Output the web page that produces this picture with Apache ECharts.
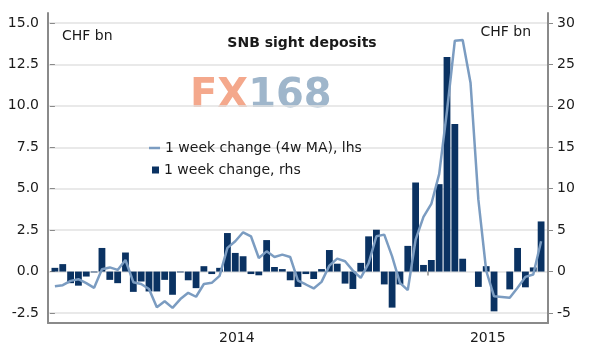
<!DOCTYPE html>
<html>
<head>
<meta charset="utf-8">
<script src="https://cdn.jsdelivr.net/npm/echarts@6/dist/echarts.min.js"></script>
<style>
	html, body { margin: 0; padding: 0; background: #fff; }
	#chart { width: 600px; height: 353px; }
</style>
</head>
<body>
<div id="chart"></div>
<script>
// weekly change, CHF bn (rhs)
const weekChange = [
	0.45, 0.9, -1.4, -1.7, -0.6, -0.1, 2.85, -1.0, -1.4, 2.3,
	-2.45, -1.2, -2.4, -2.4, -1.0, -2.8, -0.1, -1.05, -2.0, 0.65,
	-0.3, 0.45, 4.65, 2.25, 1.85, -0.3, -0.45, 3.8, 0.55, 0.3,
	-1.05, -1.85, -0.3, -0.9, 0.3, 2.6, 0.95, -1.45, -2.1, 1.05,
	4.25, 5.05, -1.55, -4.35, -1.55, 3.1, 10.75, 0.8, 1.4, 10.55,
	25.9, 17.8, 1.55, null, -1.85, 0.65, -4.8, null, -2.15, 2.85,
	-1.9, 0.5, 6.05
];
// 4 week moving average, CHF bn (lhs)
const weekChangeMA = [
	-0.88, -0.82, -0.56, -0.46, -0.70, -0.98, 0.14, 0.25, 0.10, 0.70,
	-0.64, -0.75, -1.05, -2.15, -1.79, -2.19, -1.66, -1.28, -1.52, -0.75,
	-0.68, -0.26, 1.43, 1.83, 2.37, 2.13, 0.82, 1.22, 0.88, 1.02,
	0.88, -0.55, -0.78, -1.02, -0.62, 0.36, 0.78, 0.62, 0.06, -0.38,
	0.50, 2.13, 2.23, 0.92, -0.68, -1.12, 1.93, 3.30, 4.08, 5.88,
	9.70, 13.93, 13.98, 11.40, 4.34, 0.05, -1.49, -1.53, -1.58, -0.98,
	-0.32, -0.18, 1.83
];
// x axis: year labels sit mid visible span, tick at the year start (week index)
const yearLabels = ["2014", "2015"];
const yearLabelAt = [23.2, 55.2];
const yearStartAt = [47.5];

const seriesNames = ["1 week change (4w MA), lhs", "1 week change, rhs"];

const barData = weekChange.map((v, i) => [i, v]);
const lineData = weekChangeMA.map((v, i) => [i, v]);

const font = "DejaVu Sans, Verdana, sans-serif";
const axisGray = "#8a8a8a";
const textColor = "#1a1a1a";

const chart = echarts.init(document.getElementById("chart"), null, { renderer: "canvas" });

chart.setOption({
	animation: false,
	backgroundColor: "#fff",
	textStyle: { fontFamily: font },
	title: [
		{
			text: "SNB sight deposits",
			left: 297, top: 31, textAlign: "center",
			textStyle: { fontSize: 14, fontWeight: "bold", color: textColor, fontFamily: font }
		},
		{
			text: "CHF bn",
			left: 57, top: 24,
			textStyle: { fontSize: 14, fontWeight: "normal", color: textColor, fontFamily: font }
		},
		{
			text: "CHF bn",
			right: 64, top: 20,
			textStyle: { fontSize: 14, fontWeight: "normal", color: textColor, fontFamily: font }
		}
	],
	graphic: [
		{
			type: "text",
			left: 190, top: 77,
			silent: true,
			style: {
				text: "{a|FX}{b|168}",
				rich: {
					a: { fontSize: 40, fontWeight: "bold", fontFamily: font, fill: "#f4a88c" },
					b: { fontSize: 40, fontWeight: "bold", fontFamily: font, fill: "#9fb6cb" }
				}
			}
		}
	],
	legend: [
		{
			data: [seriesNames[0]],
			left: 144, top: 136,
			icon: "rect", itemWidth: 11, itemHeight: 2.5,
			textStyle: { fontSize: 14, color: textColor, fontFamily: font },
			selectedMode: false
		},
		{
			data: [seriesNames[1]],
			left: 147, top: 158,
			icon: "rect", itemWidth: 7, itemHeight: 7,
			textStyle: { fontSize: 14, color: textColor, fontFamily: font },
			selectedMode: false
		}
	],
	grid: [
		{ left: 48, right: 52, top: 23, bottom: 40 },
		{ left: 48, right: 52, top: 13, bottom: 30 }
	],
	xAxis: [
		{
			type: "value",
			gridIndex: 0,
			min: -0.88, max: 62.88,
			position: "bottom",
			offset: 10,
			axisLine: { show: false },
			splitLine: { show: false },
			axisTick: {
				show: true, length: 4,
				customValues: yearStartAt,
				lineStyle: { color: axisGray, width: 1.5 }
			},
			axisLabel: {
				customValues: yearLabelAt,
				margin: 8,
				fontSize: 14, color: textColor, fontFamily: font,
				formatter: v => yearLabels[yearLabelAt.indexOf(v)] || ""
			}
		},
		{
			type: "value",
			gridIndex: 1,
			min: 0, max: 1,
			axisLine: { show: true, onZero: false, lineStyle: { color: axisGray, width: 2 } },
			axisTick: { show: false },
			axisLabel: { show: false },
			splitLine: { show: false }
		}
	],
	yAxis: [
		{
			type: "value",
			gridIndex: 0,
			position: "left",
			min: -2.5, max: 15, interval: 2.5,
			axisLine: { show: false },
			axisTick: { show: true, length: 5, lineStyle: { color: axisGray } },
			axisLabel: {
				margin: 9, fontSize: 14, color: textColor, fontFamily: font,
				formatter: v => v.toFixed(1)
			},
			splitLine: { show: true, lineStyle: { color: "#e2e2e2", width: 1.5 } }
		},
		{
			type: "value",
			gridIndex: 0,
			position: "right",
			min: -5, max: 30, interval: 5,
			axisLine: { show: false },
			axisTick: { show: true, length: 5, lineStyle: { color: axisGray } },
			axisLabel: { margin: 9, fontSize: 14, color: textColor, fontFamily: font },
			splitLine: { show: false }
		},
		{
			type: "value",
			gridIndex: 1,
			position: "left",
			min: 0, max: 1,
			axisLine: { show: true, onZero: false, lineStyle: { color: axisGray, width: 2 } },
			axisTick: { show: false },
			axisLabel: { show: false },
			splitLine: { show: false }
		},
		{
			type: "value",
			gridIndex: 1,
			position: "right",
			min: 0, max: 1,
			axisLine: { show: true, onZero: false, lineStyle: { color: axisGray, width: 2 } },
			axisTick: { show: false },
			axisLabel: { show: false },
			splitLine: { show: false }
		}
	],
	series: [
		{
			name: seriesNames[1],
			type: "bar",
			xAxisIndex: 0, yAxisIndex: 1,
			data: barData,
			barWidth: 6.8,
			itemStyle: { color: "#0a3262" },
			z: 2
		},
		{
			name: seriesNames[0],
			type: "line",
			xAxisIndex: 0, yAxisIndex: 0,
			data: lineData,
			showSymbol: false,
			symbol: "none",
			lineStyle: { color: "#7b9cc1", width: 2.5 },
			itemStyle: { color: "#7b9cc1" },
			z: 3
		}
	]
});
</script>
</body>
</html>
